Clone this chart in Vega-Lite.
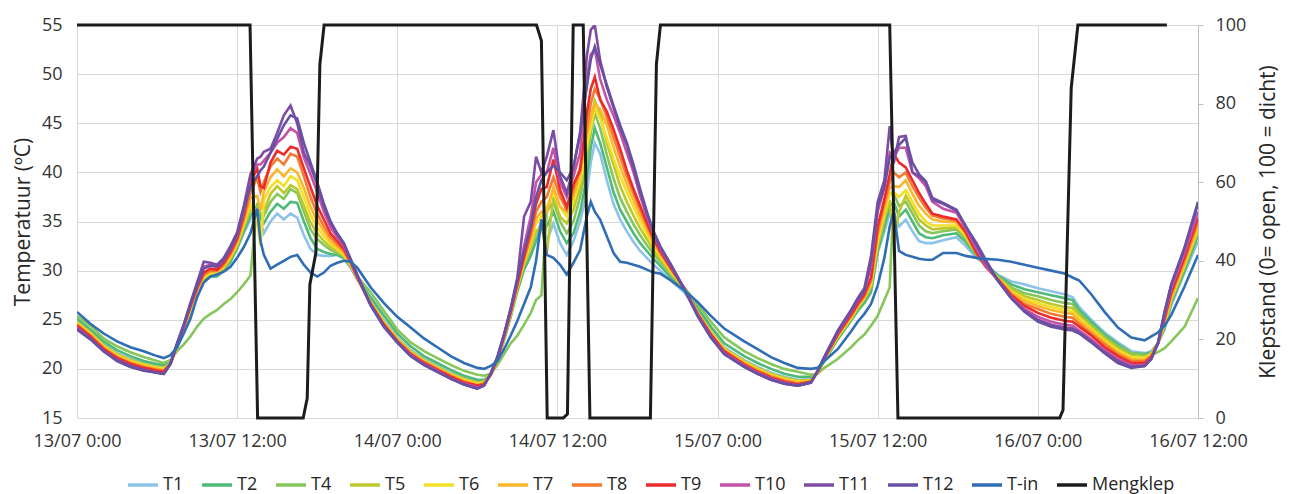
{
  "$schema": "https://vega.github.io/schema/vega-lite/v6.json",
  "width": 1121,
  "height": 393,
  "autosize": {"type": "none"},
  "padding": {"left": 77, "top": 25, "right": 93, "bottom": 76},
  "background": "white",
  "config": {"font": "Open Sans", "view": {"stroke": null}},
  "datasets": {
    "temp": [
      {"t":"2015-07-13T00:00","T1":24.9,"T2":25.1,"T4":25.4,"T5":24.8,"T6":24.7,"T7":24.6,"T8":24.5,"T9":24.4,"T10":24.2,"T11":24.1,"T12":24.0,"T-in":25.8},
      {"t":"2015-07-13T01:00","T1":23.8,"T2":24.0,"T4":24.4,"T5":23.7,"T6":23.6,"T7":23.5,"T8":23.4,"T9":23.3,"T10":23.1,"T11":23.1,"T12":23.0,"T-in":24.6},
      {"t":"2015-07-13T02:00","T1":22.5,"T2":22.8,"T4":23.1,"T5":22.4,"T6":22.3,"T7":22.2,"T8":22.1,"T9":22.0,"T10":21.8,"T11":21.8,"T12":21.8,"T-in":23.6},
      {"t":"2015-07-13T03:00","T1":21.6,"T2":21.9,"T4":22.3,"T5":21.5,"T6":21.4,"T7":21.3,"T8":21.2,"T9":21.1,"T10":20.9,"T11":20.9,"T12":20.8,"T-in":22.8},
      {"t":"2015-07-13T04:00","T1":21.0,"T2":21.3,"T4":21.7,"T5":20.9,"T6":20.8,"T7":20.7,"T8":20.6,"T9":20.5,"T10":20.3,"T11":20.3,"T12":20.2,"T-in":22.2},
      {"t":"2015-07-13T05:00","T1":20.6,"T2":20.8,"T4":21.2,"T5":20.5,"T6":20.4,"T7":20.3,"T8":20.2,"T9":20.1,"T10":19.9,"T11":19.9,"T12":19.8,"T-in":21.8},
      {"t":"2015-07-13T06:00","T1":20.3,"T2":20.5,"T4":20.8,"T5":20.2,"T6":20.1,"T7":20.0,"T8":19.9,"T9":19.8,"T10":19.6,"T11":19.6,"T12":19.6,"T-in":21.3},
      {"t":"2015-07-13T06:30","T1":20.2,"T2":20.4,"T4":20.6,"T5":20.1,"T6":20.0,"T7":19.9,"T8":19.8,"T9":19.7,"T10":19.5,"T11":19.5,"T12":19.5,"T-in":21.1},
      {"t":"2015-07-13T07:00","T1":20.5,"T2":20.6,"T4":20.9,"T5":20.5,"T6":20.5,"T7":20.5,"T8":20.5,"T9":20.5,"T10":20.5,"T11":20.5,"T12":20.5,"T-in":21.4},
      {"t":"2015-07-13T07:30","T1":22.2,"T2":22.2,"T4":21.8,"T5":22.3,"T6":22.3,"T7":22.4,"T8":22.4,"T9":22.5,"T10":22.5,"T11":22.6,"T12":22.6,"T-in":22.2},
      {"t":"2015-07-13T08:00","T1":23.9,"T2":24.0,"T4":22.5,"T5":24.1,"T6":24.1,"T7":24.2,"T8":24.2,"T9":24.3,"T10":24.4,"T11":24.5,"T12":24.5,"T-in":23.6},
      {"t":"2015-07-13T08:30","T1":25.8,"T2":25.9,"T4":23.3,"T5":26.0,"T6":26.1,"T7":26.2,"T8":26.3,"T9":26.4,"T10":26.6,"T11":26.7,"T12":26.6,"T-in":25.1},
      {"t":"2015-07-13T09:00","T1":27.6,"T2":27.7,"T4":24.3,"T5":27.8,"T6":27.9,"T7":28.0,"T8":28.1,"T9":28.3,"T10":28.6,"T11":28.8,"T12":28.5,"T-in":27.3},
      {"t":"2015-07-13T09:30","T1":29.0,"T2":29.0,"T4":25.1,"T5":29.2,"T6":29.4,"T7":29.5,"T8":29.6,"T9":29.8,"T10":30.4,"T11":30.9,"T12":30.2,"T-in":28.8},
      {"t":"2015-07-13T10:00","T1":29.4,"T2":29.4,"T4":25.6,"T5":29.6,"T6":29.7,"T7":29.9,"T8":30.0,"T9":30.2,"T10":30.6,"T11":30.8,"T12":30.5,"T-in":29.4},
      {"t":"2015-07-13T10:30","T1":29.5,"T2":29.4,"T4":26.0,"T5":29.6,"T6":29.8,"T7":29.9,"T8":30.0,"T9":30.1,"T10":30.4,"T11":30.6,"T12":30.4,"T-in":29.6},
      {"t":"2015-07-13T11:00","T1":30.1,"T2":30.0,"T4":26.6,"T5":30.2,"T6":30.4,"T7":30.5,"T8":30.6,"T9":30.8,"T10":31.1,"T11":31.3,"T12":31.1,"T-in":29.9},
      {"t":"2015-07-13T11:30","T1":31.0,"T2":30.9,"T4":27.1,"T5":31.2,"T6":31.4,"T7":31.5,"T8":31.7,"T9":31.9,"T10":32.2,"T11":32.5,"T12":32.3,"T-in":30.4},
      {"t":"2015-07-13T12:00","T1":32.2,"T2":32.3,"T4":27.8,"T5":32.5,"T6":32.7,"T7":32.9,"T8":33.1,"T9":33.3,"T10":33.6,"T11":33.9,"T12":33.7,"T-in":31.3},
      {"t":"2015-07-13T12:30","T1":33.8,"T2":34.0,"T4":28.6,"T5":34.4,"T6":34.7,"T7":35.0,"T8":35.3,"T9":35.7,"T10":36.1,"T11":36.6,"T12":36.3,"T-in":32.4},
      {"t":"2015-07-13T13:00","T1":35.2,"T2":35.6,"T4":29.5,"T5":36.2,"T6":36.8,"T7":37.4,"T8":38.0,"T9":39.0,"T10":39.6,"T11":39.8,"T12":38.6,"T-in":33.8},
      {"t":"2015-07-13T13:30","T1":36.0,"T2":36.6,"T4":36.9,"T5":36.2,"T6":35.0,"T7":37.6,"T8":39.4,"T9":40.4,"T10":40.8,"T11":41.4,"T12":39.6,"T-in":36.3},
      {"t":"2015-07-13T13:45","T1":35.0,"T2":35.4,"T4":35.8,"T5":33.5,"T6":32.5,"T7":36.2,"T8":38.0,"T9":38.6,"T10":40.8,"T11":41.6,"T12":40.2,"T-in":33.0},
      {"t":"2015-07-13T14:00","T1":33.8,"T2":34.8,"T4":35.6,"T5":36.0,"T6":37.2,"T7":38.0,"T8":39.0,"T9":38.4,"T10":41.2,"T11":42.1,"T12":40.6,"T-in":31.6},
      {"t":"2015-07-13T14:30","T1":35.0,"T2":36.0,"T4":37.0,"T5":37.8,"T6":38.5,"T7":39.5,"T8":40.6,"T9":41.0,"T10":42.0,"T11":42.4,"T12":42.0,"T-in":30.2},
      {"t":"2015-07-13T15:00","T1":35.8,"T2":36.8,"T4":37.8,"T5":38.6,"T6":39.2,"T7":40.3,"T8":41.4,"T9":42.2,"T10":43.0,"T11":44.0,"T12":43.4,"T-in":30.6},
      {"t":"2015-07-13T15:30","T1":35.2,"T2":36.3,"T4":37.3,"T5":37.9,"T6":38.6,"T7":39.6,"T8":40.8,"T9":41.8,"T10":43.6,"T11":45.8,"T12":44.8,"T-in":31.0},
      {"t":"2015-07-13T16:00","T1":35.8,"T2":37.0,"T4":38.3,"T5":38.7,"T6":39.6,"T7":40.4,"T8":41.9,"T9":42.6,"T10":44.5,"T11":46.8,"T12":45.8,"T-in":31.4},
      {"t":"2015-07-13T16:30","T1":35.4,"T2":36.9,"T4":37.9,"T5":38.3,"T6":39.2,"T7":40.0,"T8":41.6,"T9":42.4,"T10":44.0,"T11":45.0,"T12":45.5,"T-in":31.6},
      {"t":"2015-07-13T17:00","T1":33.6,"T2":35.0,"T4":36.0,"T5":36.6,"T6":37.5,"T7":38.4,"T8":39.6,"T9":40.4,"T10":41.5,"T11":42.0,"T12":43.0,"T-in":30.6},
      {"t":"2015-07-13T17:30","T1":32.2,"T2":33.3,"T4":34.2,"T5":34.9,"T6":35.7,"T7":36.5,"T8":37.5,"T9":38.5,"T10":39.8,"T11":40.6,"T12":41.0,"T-in":29.8},
      {"t":"2015-07-13T18:00","T1":31.6,"T2":32.2,"T4":33.2,"T5":33.8,"T6":34.4,"T7":35.1,"T8":35.8,"T9":36.6,"T10":38.0,"T11":38.8,"T12":39.0,"T-in":29.4},
      {"t":"2015-07-13T18:30","T1":31.5,"T2":31.9,"T4":32.6,"T5":33.0,"T6":33.5,"T7":34.0,"T8":34.5,"T9":35.2,"T10":36.0,"T11":36.5,"T12":36.8,"T-in":29.8},
      {"t":"2015-07-13T19:00","T1":31.5,"T2":31.7,"T4":32.1,"T5":32.4,"T6":32.7,"T7":33.0,"T8":33.4,"T9":33.8,"T10":34.4,"T11":34.8,"T12":35.0,"T-in":30.5},
      {"t":"2015-07-13T19:30","T1":31.6,"T2":31.6,"T4":31.8,"T5":32.0,"T6":32.2,"T7":32.4,"T8":32.7,"T9":33.0,"T10":33.4,"T11":33.7,"T12":33.8,"T-in":30.8},
      {"t":"2015-07-13T20:00","T1":31.2,"T2":31.3,"T4":31.4,"T5":31.5,"T6":31.6,"T7":31.8,"T8":32.0,"T9":32.2,"T10":32.5,"T11":32.7,"T12":32.8,"T-in":31.0},
      {"t":"2015-07-13T20:30","T1":30.3,"T2":30.4,"T4":30.5,"T5":30.5,"T6":30.6,"T7":30.7,"T8":30.8,"T9":30.9,"T10":31.0,"T11":31.1,"T12":31.2,"T-in":30.9},
      {"t":"2015-07-13T21:00","T1":29.1,"T2":29.2,"T4":29.4,"T5":29.2,"T6":29.2,"T7":29.2,"T8":29.3,"T9":29.3,"T10":29.4,"T11":29.5,"T12":29.6,"T-in":30.3},
      {"t":"2015-07-13T22:00","T1":26.9,"T2":27.3,"T4":27.8,"T5":26.8,"T6":26.7,"T7":26.7,"T8":26.6,"T9":26.6,"T10":26.5,"T11":26.5,"T12":26.5,"T-in":28.3},
      {"t":"2015-07-13T23:00","T1":24.9,"T2":25.4,"T4":25.9,"T5":24.8,"T6":24.7,"T7":24.6,"T8":24.5,"T9":24.5,"T10":24.3,"T11":24.3,"T12":24.3,"T-in":26.7},
      {"t":"2015-07-14T00:00","T1":23.2,"T2":23.6,"T4":24.0,"T5":23.1,"T6":23.0,"T7":22.9,"T8":22.9,"T9":22.8,"T10":22.7,"T11":22.7,"T12":22.7,"T-in":25.3},
      {"t":"2015-07-14T01:00","T1":21.9,"T2":22.3,"T4":22.7,"T5":21.8,"T6":21.7,"T7":21.6,"T8":21.6,"T9":21.5,"T10":21.4,"T11":21.3,"T12":21.3,"T-in":24.2},
      {"t":"2015-07-14T02:00","T1":21.0,"T2":21.3,"T4":21.8,"T5":20.9,"T6":20.8,"T7":20.7,"T8":20.7,"T9":20.6,"T10":20.5,"T11":20.4,"T12":20.4,"T-in":23.1},
      {"t":"2015-07-14T03:00","T1":20.3,"T2":20.6,"T4":21.1,"T5":20.2,"T6":20.1,"T7":20.0,"T8":20.0,"T9":19.9,"T10":19.8,"T11":19.7,"T12":19.7,"T-in":22.2},
      {"t":"2015-07-14T04:00","T1":19.6,"T2":19.9,"T4":20.4,"T5":19.5,"T6":19.4,"T7":19.3,"T8":19.3,"T9":19.2,"T10":19.0,"T11":19.0,"T12":19.0,"T-in":21.3},
      {"t":"2015-07-14T05:00","T1":19.1,"T2":19.3,"T4":19.8,"T5":19.0,"T6":18.9,"T7":18.8,"T8":18.7,"T9":18.6,"T10":18.5,"T11":18.4,"T12":18.4,"T-in":20.6},
      {"t":"2015-07-14T06:00","T1":18.7,"T2":18.9,"T4":19.4,"T5":18.6,"T6":18.5,"T7":18.4,"T8":18.3,"T9":18.3,"T10":18.1,"T11":18.0,"T12":18.0,"T-in":20.1},
      {"t":"2015-07-14T06:30","T1":18.8,"T2":18.9,"T4":19.3,"T5":18.7,"T6":18.6,"T7":18.5,"T8":18.5,"T9":18.4,"T10":18.3,"T11":18.3,"T12":18.3,"T-in":20.0},
      {"t":"2015-07-14T07:00","T1":19.4,"T2":19.4,"T4":19.5,"T5":19.4,"T6":19.4,"T7":19.4,"T8":19.4,"T9":19.4,"T10":19.5,"T11":19.5,"T12":19.5,"T-in":20.3},
      {"t":"2015-07-14T07:30","T1":20.9,"T2":20.8,"T4":20.4,"T5":20.9,"T6":20.9,"T7":21.0,"T8":21.0,"T9":21.0,"T10":21.1,"T11":21.2,"T12":21.2,"T-in":20.8},
      {"t":"2015-07-14T08:00","T1":23.0,"T2":22.9,"T4":21.5,"T5":23.1,"T6":23.1,"T7":23.2,"T8":23.2,"T9":23.3,"T10":23.4,"T11":23.5,"T12":23.5,"T-in":22.0},
      {"t":"2015-07-14T08:30","T1":25.4,"T2":25.3,"T4":22.6,"T5":25.5,"T6":25.6,"T7":25.7,"T8":25.8,"T9":25.8,"T10":26.0,"T11":26.2,"T12":26.1,"T-in":23.4},
      {"t":"2015-07-14T09:00","T1":28.1,"T2":27.9,"T4":23.4,"T5":28.2,"T6":28.4,"T7":28.5,"T8":28.6,"T9":28.7,"T10":29.0,"T11":29.3,"T12":29.1,"T-in":24.9},
      {"t":"2015-07-14T09:30","T1":30.4,"T2":30.1,"T4":24.5,"T5":30.6,"T6":30.8,"T7":31.0,"T8":31.2,"T9":31.5,"T10":32.5,"T11":35.5,"T12":32.0,"T-in":26.6},
      {"t":"2015-07-14T10:00","T1":31.8,"T2":31.5,"T4":25.7,"T5":32.3,"T6":32.8,"T7":33.2,"T8":33.6,"T9":34.2,"T10":35.5,"T11":37.0,"T12":34.5,"T-in":28.3},
      {"t":"2015-07-14T10:24","T1":33.5,"T2":33.0,"T4":27.0,"T5":34.0,"T6":34.8,"T7":35.3,"T8":36.0,"T9":36.8,"T10":39.0,"T11":41.6,"T12":37.5,"T-in":31.0},
      {"t":"2015-07-14T10:48","T1":35.0,"T2":34.4,"T4":27.5,"T5":34.5,"T6":35.5,"T7":36.0,"T8":37.0,"T9":38.3,"T10":39.8,"T11":40.0,"T12":39.2,"T-in":35.2},
      {"t":"2015-07-14T11:12","T1":33.0,"T2":34.5,"T4":36.0,"T5":31.8,"T6":36.5,"T7":36.0,"T8":37.5,"T9":38.5,"T10":40.0,"T11":41.6,"T12":40.0,"T-in":31.6},
      {"t":"2015-07-14T11:42","T1":34.8,"T2":36.0,"T4":37.0,"T5":37.5,"T6":38.0,"T7":38.5,"T8":39.5,"T9":41.3,"T10":42.5,"T11":44.3,"T12":40.7,"T-in":31.3},
      {"t":"2015-07-14T12:12","T1":32.8,"T2":34.0,"T4":35.0,"T5":35.5,"T6":36.5,"T7":36.5,"T8":37.5,"T9":38.2,"T10":39.0,"T11":39.6,"T12":40.0,"T-in":30.6},
      {"t":"2015-07-14T12:42","T1":31.6,"T2":32.8,"T4":33.8,"T5":34.8,"T6":35.5,"T7":36.0,"T8":36.2,"T9":36.5,"T10":37.5,"T11":37.9,"T12":39.2,"T-in":29.6},
      {"t":"2015-07-14T13:12","T1":33.0,"T2":33.8,"T4":35.0,"T5":36.2,"T6":37.0,"T7":37.6,"T8":38.2,"T9":38.8,"T10":39.6,"T11":40.5,"T12":40.5,"T-in":30.8},
      {"t":"2015-07-14T13:42","T1":35.0,"T2":36.0,"T4":37.5,"T5":38.5,"T6":39.2,"T7":39.8,"T8":40.5,"T9":40.2,"T10":42.0,"T11":44.0,"T12":44.0,"T-in":32.1},
      {"t":"2015-07-14T14:12","T1":37.9,"T2":39.5,"T4":41.0,"T5":42.5,"T6":42.6,"T7":43.8,"T8":44.5,"T9":46.0,"T10":49.5,"T11":51.8,"T12":48.7,"T-in":35.5},
      {"t":"2015-07-14T14:30","T1":41.0,"T2":42.5,"T4":44.0,"T5":45.5,"T6":44.5,"T7":45.5,"T8":47.0,"T9":48.5,"T10":52.0,"T11":54.5,"T12":51.5,"T-in":37.0},
      {"t":"2015-07-14T14:48","T1":43.0,"T2":44.5,"T4":46.0,"T5":47.3,"T6":46.5,"T7":47.0,"T8":48.5,"T9":49.7,"T10":52.5,"T11":55.0,"T12":52.8,"T-in":36.0},
      {"t":"2015-07-14T15:12","T1":41.9,"T2":43.0,"T4":44.5,"T5":46.0,"T6":45.5,"T7":46.4,"T8":47.5,"T9":47.4,"T10":49.5,"T11":51.4,"T12":51.0,"T-in":35.2},
      {"t":"2015-07-14T15:42","T1":39.2,"T2":40.5,"T4":41.8,"T5":43.0,"T6":43.5,"T7":44.8,"T8":45.6,"T9":46.2,"T10":47.4,"T11":48.7,"T12":48.9,"T-in":33.5},
      {"t":"2015-07-14T16:12","T1":36.8,"T2":38.0,"T4":39.4,"T5":40.8,"T6":41.4,"T7":42.6,"T8":43.6,"T9":44.4,"T10":45.8,"T11":46.6,"T12":46.8,"T-in":31.8},
      {"t":"2015-07-14T16:42","T1":35.2,"T2":36.2,"T4":37.4,"T5":38.6,"T6":39.6,"T7":40.6,"T8":41.6,"T9":42.4,"T10":44.0,"T11":44.5,"T12":44.8,"T-in":30.9},
      {"t":"2015-07-14T17:12","T1":34.0,"T2":35.0,"T4":36.0,"T5":37.0,"T6":38.0,"T7":38.8,"T8":39.6,"T9":40.2,"T10":42.0,"T11":42.8,"T12":43.0,"T-in":30.8},
      {"t":"2015-07-14T17:42","T1":32.9,"T2":33.8,"T4":34.7,"T5":35.6,"T6":36.5,"T7":37.2,"T8":37.9,"T9":38.3,"T10":40.0,"T11":40.4,"T12":40.8,"T-in":30.6},
      {"t":"2015-07-14T18:12","T1":32.0,"T2":32.8,"T4":33.6,"T5":34.3,"T6":35.0,"T7":35.6,"T8":36.2,"T9":36.6,"T10":37.6,"T11":38.0,"T12":38.3,"T-in":30.4},
      {"t":"2015-07-14T18:42","T1":31.3,"T2":32.0,"T4":32.6,"T5":33.2,"T6":33.7,"T7":34.2,"T8":34.6,"T9":34.9,"T10":35.5,"T11":35.8,"T12":36.0,"T-in":30.1},
      {"t":"2015-07-14T19:12","T1":30.6,"T2":31.2,"T4":31.7,"T5":32.1,"T6":32.5,"T7":32.8,"T8":33.1,"T9":33.3,"T10":33.7,"T11":33.9,"T12":34.0,"T-in":29.8},
      {"t":"2015-07-14T19:42","T1":30.0,"T2":30.5,"T4":30.9,"T5":31.2,"T6":31.5,"T7":31.7,"T8":31.9,"T9":32.0,"T10":32.3,"T11":32.4,"T12":32.5,"T-in":29.7},
      {"t":"2015-07-14T20:30","T1":29.0,"T2":29.3,"T4":29.6,"T5":29.8,"T6":29.9,"T7":30.1,"T8":30.2,"T9":30.3,"T10":30.5,"T11":30.6,"T12":30.6,"T-in":29.0},
      {"t":"2015-07-14T21:30","T1":27.8,"T2":28.0,"T4":28.3,"T5":28.2,"T6":28.2,"T7":28.2,"T8":28.2,"T9":28.2,"T10":28.2,"T11":28.2,"T12":28.1,"T-in":28.0},
      {"t":"2015-07-14T22:30","T1":25.9,"T2":26.2,"T4":26.6,"T5":25.8,"T6":25.7,"T7":25.7,"T8":25.6,"T9":25.6,"T10":25.5,"T11":25.4,"T12":25.4,"T-in":26.8},
      {"t":"2015-07-14T23:30","T1":23.9,"T2":24.3,"T4":24.8,"T5":23.8,"T6":23.7,"T7":23.6,"T8":23.5,"T9":23.5,"T10":23.3,"T11":23.2,"T12":23.2,"T-in":25.4},
      {"t":"2015-07-15T00:30","T1":22.2,"T2":22.6,"T4":23.2,"T5":22.1,"T6":22.0,"T7":21.9,"T8":21.8,"T9":21.8,"T10":21.6,"T11":21.5,"T12":21.5,"T-in":24.1},
      {"t":"2015-07-15T02:00","T1":20.9,"T2":21.3,"T4":21.8,"T5":20.8,"T6":20.7,"T7":20.6,"T8":20.5,"T9":20.4,"T10":20.3,"T11":20.2,"T12":20.2,"T-in":22.8},
      {"t":"2015-07-15T03:00","T1":20.2,"T2":20.6,"T4":21.1,"T5":20.1,"T6":20.0,"T7":19.9,"T8":19.8,"T9":19.7,"T10":19.6,"T11":19.5,"T12":19.5,"T-in":22.0},
      {"t":"2015-07-15T04:00","T1":19.6,"T2":20.0,"T4":20.5,"T5":19.5,"T6":19.4,"T7":19.3,"T8":19.2,"T9":19.1,"T10":19.0,"T11":18.9,"T12":18.9,"T-in":21.2},
      {"t":"2015-07-15T05:00","T1":19.2,"T2":19.5,"T4":20.0,"T5":19.1,"T6":19.0,"T7":18.9,"T8":18.8,"T9":18.7,"T10":18.6,"T11":18.5,"T12":18.5,"T-in":20.6},
      {"t":"2015-07-15T06:00","T1":18.9,"T2":19.2,"T4":19.7,"T5":18.8,"T6":18.7,"T7":18.6,"T8":18.5,"T9":18.4,"T10":18.3,"T11":18.3,"T12":18.3,"T-in":20.1},
      {"t":"2015-07-15T07:00","T1":19.0,"T2":19.2,"T4":19.4,"T5":18.9,"T6":18.8,"T7":18.8,"T8":18.7,"T9":18.7,"T10":18.6,"T11":18.6,"T12":18.6,"T-in":20.0},
      {"t":"2015-07-15T07:30","T1":19.6,"T2":19.6,"T4":19.5,"T5":19.6,"T6":19.6,"T7":19.7,"T8":19.7,"T9":19.7,"T10":19.8,"T11":19.8,"T12":19.8,"T-in":20.1},
      {"t":"2015-07-15T08:00","T1":20.9,"T2":20.8,"T4":20.1,"T5":20.9,"T6":21.0,"T7":21.0,"T8":21.1,"T9":21.1,"T10":21.2,"T11":21.2,"T12":21.2,"T-in":20.8},
      {"t":"2015-07-15T09:00","T1":23.1,"T2":23.0,"T4":21.0,"T5":23.2,"T6":23.3,"T7":23.4,"T8":23.5,"T9":23.5,"T10":23.7,"T11":23.9,"T12":23.8,"T-in":22.0},
      {"t":"2015-07-15T10:00","T1":25.0,"T2":24.9,"T4":22.2,"T5":25.1,"T6":25.2,"T7":25.3,"T8":25.4,"T9":25.5,"T10":25.8,"T11":26.0,"T12":25.9,"T-in":23.8},
      {"t":"2015-07-15T10:30","T1":26.0,"T2":25.9,"T4":22.9,"T5":26.2,"T6":26.3,"T7":26.4,"T8":26.5,"T9":26.6,"T10":26.9,"T11":27.2,"T12":27.0,"T-in":24.8},
      {"t":"2015-07-15T11:00","T1":26.9,"T2":26.7,"T4":23.5,"T5":27.1,"T6":27.2,"T7":27.3,"T8":27.4,"T9":27.6,"T10":27.9,"T11":28.2,"T12":28.0,"T-in":25.6},
      {"t":"2015-07-15T11:30","T1":28.0,"T2":27.8,"T4":24.4,"T5":28.4,"T6":28.6,"T7":28.8,"T8":29.0,"T9":29.3,"T10":30.5,"T11":31.5,"T12":31.0,"T-in":26.6},
      {"t":"2015-07-15T12:00","T1":31.8,"T2":32.0,"T4":25.4,"T5":32.5,"T6":33.0,"T7":33.5,"T8":34.0,"T9":34.5,"T10":36.0,"T11":37.0,"T12":36.5,"T-in":28.5},
      {"t":"2015-07-15T12:30","T1":34.0,"T2":34.5,"T4":27.0,"T5":35.2,"T6":35.8,"T7":36.3,"T8":36.8,"T9":37.3,"T10":38.4,"T11":39.2,"T12":38.6,"T-in":31.3},
      {"t":"2015-07-15T12:54","T1":35.8,"T2":36.5,"T4":28.3,"T5":37.2,"T6":37.8,"T7":38.4,"T8":39.0,"T9":39.8,"T10":42.0,"T11":44.7,"T12":41.5,"T-in":34.5},
      {"t":"2015-07-15T13:12","T1":36.0,"T2":37.0,"T4":37.8,"T5":33.0,"T6":38.0,"T7":38.6,"T8":40.0,"T9":41.9,"T10":41.5,"T11":40.9,"T12":42.0,"T-in":36.0},
      {"t":"2015-07-15T13:36","T1":34.5,"T2":35.5,"T4":36.6,"T5":36.0,"T6":37.5,"T7":38.5,"T8":39.5,"T9":41.0,"T10":42.5,"T11":43.6,"T12":42.8,"T-in":32.0},
      {"t":"2015-07-15T14:06","T1":35.2,"T2":36.2,"T4":37.0,"T5":37.6,"T6":38.2,"T7":39.2,"T8":40.0,"T9":40.5,"T10":42.5,"T11":43.7,"T12":43.5,"T-in":31.6},
      {"t":"2015-07-15T14:36","T1":34.0,"T2":35.0,"T4":35.8,"T5":36.4,"T6":37.0,"T7":37.8,"T8":38.6,"T9":39.2,"T10":40.0,"T11":40.0,"T12":41.0,"T-in":31.4},
      {"t":"2015-07-15T15:06","T1":33.0,"T2":33.8,"T4":34.6,"T5":35.2,"T6":35.8,"T7":36.6,"T8":37.4,"T9":37.9,"T10":39.4,"T11":39.6,"T12":39.8,"T-in":31.2},
      {"t":"2015-07-15T15:36","T1":32.8,"T2":33.4,"T4":34.0,"T5":34.6,"T6":35.0,"T7":35.8,"T8":36.4,"T9":36.8,"T10":38.6,"T11":39.0,"T12":39.1,"T-in":31.1},
      {"t":"2015-07-15T16:06","T1":32.8,"T2":33.3,"T4":33.8,"T5":34.2,"T6":34.6,"T7":35.2,"T8":35.6,"T9":35.8,"T10":37.0,"T11":37.2,"T12":37.4,"T-in":31.1},
      {"t":"2015-07-15T16:54","T1":33.1,"T2":33.6,"T4":34.0,"T5":34.3,"T6":34.6,"T7":35.0,"T8":35.3,"T9":35.5,"T10":36.3,"T11":36.8,"T12":36.9,"T-in":31.8},
      {"t":"2015-07-15T17:54","T1":33.4,"T2":33.8,"T4":34.2,"T5":34.4,"T6":34.6,"T7":34.9,"T8":35.1,"T9":35.2,"T10":35.9,"T11":36.1,"T12":36.2,"T-in":31.8},
      {"t":"2015-07-15T18:36","T1":32.5,"T2":32.9,"T4":33.2,"T5":33.4,"T6":33.6,"T7":33.8,"T8":33.9,"T9":33.9,"T10":34.3,"T11":34.5,"T12":34.5,"T-in":31.5},
      {"t":"2015-07-15T19:24","T1":31.3,"T2":31.5,"T4":31.6,"T5":31.7,"T6":31.8,"T7":31.8,"T8":31.8,"T9":31.8,"T10":32.2,"T11":32.6,"T12":32.8,"T-in":31.3},
      {"t":"2015-07-15T20:06","T1":30.6,"T2":30.6,"T4":30.5,"T5":30.5,"T6":30.5,"T7":30.4,"T8":30.4,"T9":30.4,"T10":30.5,"T11":30.8,"T12":31.1,"T-in":31.2},
      {"t":"2015-07-15T21:00","T1":29.6,"T2":29.5,"T4":29.4,"T5":29.3,"T6":29.2,"T7":29.2,"T8":29.1,"T9":29.1,"T10":29.0,"T11":29.0,"T12":29.0,"T-in":31.1},
      {"t":"2015-07-15T22:00","T1":28.9,"T2":28.6,"T4":28.3,"T5":28.1,"T6":27.9,"T7":27.8,"T8":27.6,"T9":27.5,"T10":27.3,"T11":27.2,"T12":27.2,"T-in":30.9},
      {"t":"2015-07-15T23:00","T1":28.6,"T2":28.1,"T4":27.7,"T5":27.4,"T6":27.1,"T7":26.9,"T8":26.6,"T9":26.4,"T10":26.1,"T11":25.9,"T12":25.8,"T-in":30.6},
      {"t":"2015-07-16T00:00","T1":28.2,"T2":27.8,"T4":27.4,"T5":27.0,"T6":26.7,"T7":26.4,"T8":26.1,"T9":25.7,"T10":25.3,"T11":25.0,"T12":24.8,"T-in":30.3},
      {"t":"2015-07-16T01:00","T1":27.9,"T2":27.5,"T4":27.0,"T5":26.6,"T6":26.3,"T7":26.0,"T8":25.6,"T9":25.2,"T10":24.8,"T11":24.5,"T12":24.3,"T-in":30.0},
      {"t":"2015-07-16T02:00","T1":27.6,"T2":27.2,"T4":26.7,"T5":26.3,"T6":26.0,"T7":25.7,"T8":25.3,"T9":24.9,"T10":24.5,"T11":24.2,"T12":24.0,"T-in":29.7},
      {"t":"2015-07-16T02:36","T1":27.3,"T2":27.0,"T4":26.6,"T5":26.2,"T6":25.9,"T7":25.6,"T8":25.2,"T9":24.8,"T10":24.4,"T11":24.1,"T12":23.9,"T-in":29.3},
      {"t":"2015-07-16T03:06","T1":26.3,"T2":26.0,"T4":25.7,"T5":25.4,"T6":25.2,"T7":24.9,"T8":24.6,"T9":24.3,"T10":23.9,"T11":23.7,"T12":23.6,"T-in":29.0},
      {"t":"2015-07-16T04:00","T1":25.0,"T2":24.8,"T4":24.5,"T5":24.3,"T6":24.1,"T7":23.9,"T8":23.6,"T9":23.4,"T10":23.0,"T11":22.8,"T12":22.7,"T-in":27.6},
      {"t":"2015-07-16T05:00","T1":23.7,"T2":23.5,"T4":23.3,"T5":23.1,"T6":22.9,"T7":22.7,"T8":22.5,"T9":22.2,"T10":21.9,"T11":21.7,"T12":21.6,"T-in":25.8},
      {"t":"2015-07-16T06:00","T1":22.7,"T2":22.5,"T4":22.3,"T5":22.1,"T6":21.9,"T7":21.7,"T8":21.5,"T9":21.3,"T10":21.0,"T11":20.8,"T12":20.6,"T-in":24.2},
      {"t":"2015-07-16T07:00","T1":21.8,"T2":21.6,"T4":21.6,"T5":21.3,"T6":21.2,"T7":21.0,"T8":20.8,"T9":20.6,"T10":20.4,"T11":20.2,"T12":20.1,"T-in":23.2},
      {"t":"2015-07-16T08:00","T1":21.6,"T2":21.5,"T4":21.4,"T5":21.2,"T6":21.1,"T7":20.9,"T8":20.8,"T9":20.6,"T10":20.4,"T11":20.3,"T12":20.3,"T-in":22.9},
      {"t":"2015-07-16T08:30","T1":21.8,"T2":21.7,"T4":21.4,"T5":21.6,"T6":21.5,"T7":21.4,"T8":21.3,"T9":21.2,"T10":21.1,"T11":21.0,"T12":21.0,"T-in":23.3},
      {"t":"2015-07-16T09:00","T1":22.6,"T2":22.6,"T4":21.7,"T5":22.6,"T6":22.6,"T7":22.6,"T8":22.6,"T9":22.6,"T10":22.6,"T11":22.6,"T12":22.6,"T-in":23.7},
      {"t":"2015-07-16T09:30","T1":24.0,"T2":24.2,"T4":22.1,"T5":24.4,"T6":24.6,"T7":24.8,"T8":25.0,"T9":25.2,"T10":25.5,"T11":25.8,"T12":25.8,"T-in":24.4},
      {"t":"2015-07-16T10:00","T1":26.5,"T2":26.7,"T4":22.8,"T5":27.0,"T6":27.2,"T7":27.4,"T8":27.6,"T9":27.8,"T10":28.2,"T11":28.6,"T12":28.6,"T-in":25.5},
      {"t":"2015-07-16T11:00","T1":29.8,"T2":30.0,"T4":24.3,"T5":30.4,"T6":30.6,"T7":30.8,"T8":31.1,"T9":31.4,"T10":31.8,"T11":32.3,"T12":32.4,"T-in":28.4},
      {"t":"2015-07-16T12:00","T1":33.0,"T2":33.6,"T4":27.2,"T5":34.0,"T6":34.3,"T7":34.6,"T8":35.0,"T9":35.4,"T10":36.0,"T11":36.8,"T12":37.0,"T-in":31.6}
    ],
    "klep": [
      {"t":"2015-07-13T00:00","klep":100},
      {"t":"2015-07-13T12:58","klep":100},
      {"t":"2015-07-13T13:32","klep":0},
      {"t":"2015-07-13T16:57","klep":0},
      {"t":"2015-07-13T17:15","klep":5},
      {"t":"2015-07-13T17:27","klep":34},
      {"t":"2015-07-13T17:54","klep":42},
      {"t":"2015-07-13T18:12","klep":90},
      {"t":"2015-07-13T18:31","klep":100},
      {"t":"2015-07-14T10:26","klep":100},
      {"t":"2015-07-14T10:48","klep":96},
      {"t":"2015-07-14T11:14","klep":0},
      {"t":"2015-07-14T12:26","klep":0},
      {"t":"2015-07-14T12:45","klep":1},
      {"t":"2015-07-14T13:11","klep":100},
      {"t":"2015-07-14T13:56","klep":100},
      {"t":"2015-07-14T14:26","klep":0},
      {"t":"2015-07-14T18:58","klep":0},
      {"t":"2015-07-14T19:25","klep":90},
      {"t":"2015-07-14T19:43","klep":100},
      {"t":"2015-07-15T12:54","klep":100},
      {"t":"2015-07-15T13:31","klep":0},
      {"t":"2015-07-16T01:38","klep":0},
      {"t":"2015-07-16T01:53","klep":2},
      {"t":"2015-07-16T02:30","klep":84},
      {"t":"2015-07-16T03:00","klep":100},
      {"t":"2015-07-16T09:40","klep":100}
    ]
  },
  "layer": [
    {
      "data": {"name": "temp"},
      "transform": [
        {"fold": ["T1","T2","T4","T5","T6","T7","T8","T9","T10","T11","T12","T-in"], "as": ["reeks","waarde"]}
      ],
      "mark": {"type": "line", "clip": true},
      "encoding": {
        "x": {
          "field": "t", "type": "temporal", "title": null,
          "scale": {"domain": [{"year":2015,"month":7,"date":13,"hours":0},{"year":2015,"month":7,"date":16,"hours":12}]},
          "axis": {
            "values": [
              {"year":2015,"month":7,"date":13,"hours":0},
              {"year":2015,"month":7,"date":13,"hours":12},
              {"year":2015,"month":7,"date":14,"hours":0},
              {"year":2015,"month":7,"date":14,"hours":12},
              {"year":2015,"month":7,"date":15,"hours":0},
              {"year":2015,"month":7,"date":15,"hours":12},
              {"year":2015,"month":7,"date":16,"hours":0},
              {"year":2015,"month":7,"date":16,"hours":12}
            ],
            "format": "%d/%m %-H:%M",
            "grid": true, "gridColor": "#d9d9d9", "gridWidth": 1,
            "domain": true, "domainColor": "#d9d9d9",
            "ticks": false,
            "labelFontSize": 18, "labelColor": "#333333", "labelPadding": 14,
            "labelFlush": false, "labelOverlap": false
          }
        },
        "y": {
          "field": "waarde", "type": "quantitative",
          "scale": {"domain": [15, 55], "nice": false, "zero": false},
          "axis": {
            "orient": "left",
            "values": [15,20,25,30,35,40,45,50,55],
            "grid": true, "gridColor": "#d9d9d9",
            "domain": true, "domainColor": "#d9d9d9",
            "ticks": false,
            "labelFontSize": 18, "labelColor": "#333333", "labelPadding": 15,
            "title": "Temperatuur (ºC)", "titleFontSize": 21, "titleFontWeight": "normal",
            "titleColor": "#262626", "titlePadding": 8
          }
        },
        "color": {
          "field": "reeks", "type": "nominal",
          "scale": {
            "domain": ["T1","T2","T4","T5","T6","T7","T8","T9","T10","T11","T12","T-in","Mengklep"],
            "range": ["#8DC3E9","#4FB97A","#86C65A","#BCC82C","#F3DF25","#FBB72B","#F37A2E","#EC2B2B","#C552A8","#7E4CA5","#6850A2","#2F6DB5","#1C1C1C"]
          },
          "legend": {
            "orient": "none", "legendX": 49, "legendY": 443,
            "direction": "horizontal", "columns": 13,
            "title": null,
            "symbolType": "stroke", "symbolSize": 900, "symbolStrokeWidth": 3.5,
            "labelFontSize": 18, "labelColor": "#262626", "labelOffset": 3,
            "columnPadding": 11
          }
        },
        "strokeWidth": {
          "field": "reeks", "type": "nominal", "legend": null,
          "scale": {
            "domain": ["T1","T2","T4","T5","T6","T7","T8","T9","T10","T11","T12","T-in"],
            "range": [2.6,2.6,2.6,2.6,2.6,2.6,2.6,2.6,2.8,3.2,3.2,2.7]
          }
        }
      }
    },
    {
      "data": {"name": "klep"},
      "mark": {"type": "line", "strokeWidth": 3},
      "encoding": {
        "x": {"field": "t", "type": "temporal", "title": null},
        "y": {
          "field": "klep", "type": "quantitative",
          "scale": {"domain": [0, 100], "nice": false},
          "axis": {
            "orient": "right",
            "values": [0,20,40,60,80,100],
            "grid": false,
            "domain": true, "domainColor": "#bfbfbf",
            "ticks": true, "tickColor": "#bfbfbf", "tickSize": 5,
            "labelFontSize": 18, "labelColor": "#333333", "labelPadding": 12,
            "title": "Klepstand (0= open, 100 = dicht)", "titleFontSize": 21, "titleFontWeight": "normal",
            "titleColor": "#262626", "titlePadding": 12, "titleAngle": 270, "titleBaseline": "top"
          }
        },
        "color": {"datum": "Mengklep", "type": "nominal"}
      }
    }
  ],
  "resolve": {"scale": {"y": "independent"}}
}
